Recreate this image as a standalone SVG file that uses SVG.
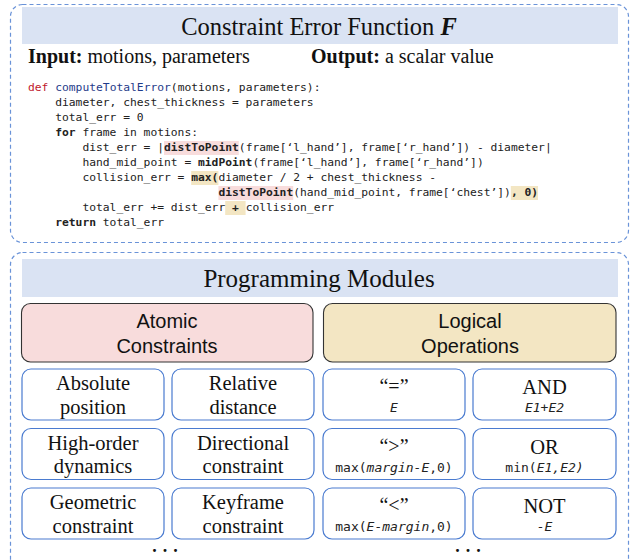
<svg xmlns="http://www.w3.org/2000/svg" width="632" height="560" viewBox="0 0 632 560">
<style>
.dash{fill:none;stroke:#6a93d8;stroke-width:1.2;stroke-dasharray:4 3}
.band{fill:#dae3f3}
.serif{font-family:"Liberation Serif","Times New Roman",serif;fill:#111}
.sans{font-family:"Liberation Sans",Arial,sans-serif;fill:#111}
.code{font-family:"DejaVu Sans Mono","Liberation Mono",monospace;font-size:11.3px;fill:#222;white-space:pre}
.mono{font-family:"DejaVu Sans Mono","Liberation Mono",monospace;font-size:13px;fill:#222}
.b{font-weight:bold}
.i{font-style:italic}
.kw{fill:#c0192b}
.fn{fill:#1f3b8a}
.hp{fill:#f8dcdc}
.hy{fill:#f3e6c3}
.box{fill:#fff;stroke:#4a7bd0;stroke-width:1.2}
.cat{stroke:#333;stroke-width:1.1}
</style>

<g id="error-function">
  <rect class="dash" x="10.5" y="4.5" width="618" height="238" rx="12"/>
  <rect class="band" x="22" y="7" width="596" height="37"/>
  <text class="serif" x="319" y="35" font-size="24.5" text-anchor="middle">Constraint Error Function <tspan class="b i">F</tspan></text>
  <text class="serif" x="28" y="63" font-size="20"><tspan class="b">Input:</tspan> motions, parameters</text>
  <text class="serif" x="311" y="63" font-size="20"><tspan class="b">Output:</tspan> a scalar value</text>

  <g id="code">
    <rect class="hp" x="164" y="141" width="74.8" height="14"/>
    <rect class="hy" x="191.2" y="171" width="27.2" height="14"/>
    <rect class="hp" x="218.4" y="186" width="74.8" height="14"/>
    <rect class="hy" x="510.8" y="186" width="27.2" height="14"/>
    <rect class="hy" x="225.2" y="201" width="20.4" height="14"/>
    <text class="code" x="28" y="91" xml:space="preserve"><tspan class="kw">def</tspan> <tspan class="fn">computeTotalError</tspan>(motions, parameters):</text>
    <text class="code" x="55.2" y="106" xml:space="preserve">diameter, chest_thickness = parameters</text>
    <text class="code" x="55.2" y="121" xml:space="preserve">total_err = 0</text>
    <text class="code" x="55.2" y="136" xml:space="preserve"><tspan class="b">for</tspan> frame in motions:</text>
    <text class="code" x="82.4" y="151" xml:space="preserve">dist_err = |<tspan class="b">distToPoint</tspan>(frame[‘l_hand’], frame[‘r_hand’]) - diameter|</text>
    <text class="code" x="82.4" y="166" xml:space="preserve">hand_mid_point = <tspan class="b">midPoint</tspan>(frame[‘l_hand’], frame[‘r_hand’])</text>
    <text class="code" x="82.4" y="181" xml:space="preserve">collision_err = <tspan class="b">max(</tspan>diameter / 2 + chest_thickness -</text>
    <text class="code" x="218.4" y="196" xml:space="preserve"><tspan class="b">distToPoint</tspan>(hand_mid_point, frame[‘chest’])<tspan class="b">, 0)</tspan></text>
    <text class="code" x="82.4" y="211" xml:space="preserve">total_err += dist_err <tspan class="b">+</tspan> collision_err</text>
    <text class="code" x="55.2" y="226" xml:space="preserve"><tspan class="b">return</tspan> total_err</text>
  </g>
</g>

<g id="programming-modules">
  <rect class="dash" x="10.5" y="252.5" width="618" height="330" rx="12"/>
  <rect class="band" x="22" y="259" width="596" height="38"/>
  <text class="serif" x="319" y="287" font-size="25" text-anchor="middle">Programming Modules</text>
</g>

<g id="atomic-constraints">
  <rect class="cat" x="21.5" y="303.5" width="291.5" height="58.5" rx="9" fill="#f8dcdc"/>
  <text class="sans" x="167" y="328" font-size="20" text-anchor="middle">Atomic</text>
  <text class="sans" x="167" y="353" font-size="20" text-anchor="middle">Constraints</text>
</g>
<g id="logical-operations">
  <rect class="cat" x="323.5" y="303.5" width="292.5" height="58.5" rx="9" fill="#f3e6c3"/>
  <text class="sans" x="470" y="328" font-size="20" text-anchor="middle">Logical</text>
  <text class="sans" x="470" y="353" font-size="20" text-anchor="middle">Operations</text>
</g>

<g id="absolute-position">
  <rect class="box" x="22" y="369" width="142" height="51" rx="9"/>
  <text class="serif" x="93" y="390" font-size="20.5" text-anchor="middle">Absolute</text>
  <text class="serif" x="93" y="413.5" font-size="20.5" text-anchor="middle">position</text>
</g>
<g id="relative-distance">
  <rect class="box" x="172" y="369" width="142" height="51" rx="9"/>
  <text class="serif" x="243" y="390" font-size="20.5" text-anchor="middle">Relative</text>
  <text class="serif" x="243" y="413.5" font-size="20.5" text-anchor="middle">distance</text>
</g>
<g id="equal">
  <rect class="box" x="323" y="369" width="142" height="51" rx="9"/>
  <text class="serif" x="394" y="393" font-size="20" text-anchor="middle">“=”</text>
  <text class="mono" x="394" y="412" text-anchor="middle"><tspan class="i">E</tspan></text>
</g>
<g id="and">
  <rect class="box" x="473" y="369" width="143" height="51" rx="9"/>
  <text class="serif" x="544.5" y="394" font-size="20.5" text-anchor="middle">AND</text>
  <text class="mono" x="544.5" y="412" text-anchor="middle"><tspan class="i">E1+E2</tspan></text>
</g>

<g id="high-order-dynamics">
  <rect class="box" x="22" y="428.5" width="142" height="51" rx="9"/>
  <text class="serif" x="93" y="449.5" font-size="20.5" text-anchor="middle">High-order</text>
  <text class="serif" x="93" y="473" font-size="20.5" text-anchor="middle">dynamics</text>
</g>
<g id="directional-constraint">
  <rect class="box" x="172" y="428.5" width="142" height="51" rx="9"/>
  <text class="serif" x="243" y="449.5" font-size="20.5" text-anchor="middle">Directional</text>
  <text class="serif" x="243" y="473" font-size="20.5" text-anchor="middle">constraint</text>
</g>
<g id="greater">
  <rect class="box" x="323" y="428.5" width="142" height="51" rx="9"/>
  <text class="serif" x="394" y="452.5" font-size="20" text-anchor="middle">“&gt;”</text>
  <text class="mono" x="394" y="471.5" text-anchor="middle">max(<tspan class="i">margin-E</tspan>,0)</text>
</g>
<g id="or">
  <rect class="box" x="473" y="428.5" width="143" height="51" rx="9"/>
  <text class="serif" x="544.5" y="453.5" font-size="20.5" text-anchor="middle">OR</text>
  <text class="mono" x="544.5" y="471.5" text-anchor="middle">min(<tspan class="i">E1,E2)</tspan></text>
</g>

<g id="geometric-constraint">
  <rect class="box" x="22" y="488" width="142" height="51" rx="9"/>
  <text class="serif" x="93" y="509" font-size="20.5" text-anchor="middle">Geometric</text>
  <text class="serif" x="93" y="532.5" font-size="20.5" text-anchor="middle">constraint</text>
</g>
<g id="keyframe-constraint">
  <rect class="box" x="172" y="488" width="142" height="51" rx="9"/>
  <text class="serif" x="243" y="509" font-size="20.5" text-anchor="middle">Keyframe</text>
  <text class="serif" x="243" y="532.5" font-size="20.5" text-anchor="middle">constraint</text>
</g>
<g id="less">
  <rect class="box" x="323" y="488" width="142" height="51" rx="9"/>
  <text class="serif" x="394" y="512" font-size="20" text-anchor="middle">“&lt;”</text>
  <text class="mono" x="394" y="531" text-anchor="middle">max(<tspan class="i">E-margin</tspan>,0)</text>
</g>
<g id="not">
  <rect class="box" x="473" y="488" width="143" height="51" rx="9"/>
  <text class="serif" x="544.5" y="513" font-size="20.5" text-anchor="middle">NOT</text>
  <text class="mono" x="544.5" y="531" text-anchor="middle"><tspan class="i">-E</tspan></text>
</g>

<g id="ellipses">
  <text class="serif b" x="168" y="552" font-size="18" text-anchor="middle" letter-spacing="6">...</text>
  <text class="serif b" x="471" y="552" font-size="18" text-anchor="middle" letter-spacing="6">...</text>
</g>
<g id="connectors"></g>
</svg>
